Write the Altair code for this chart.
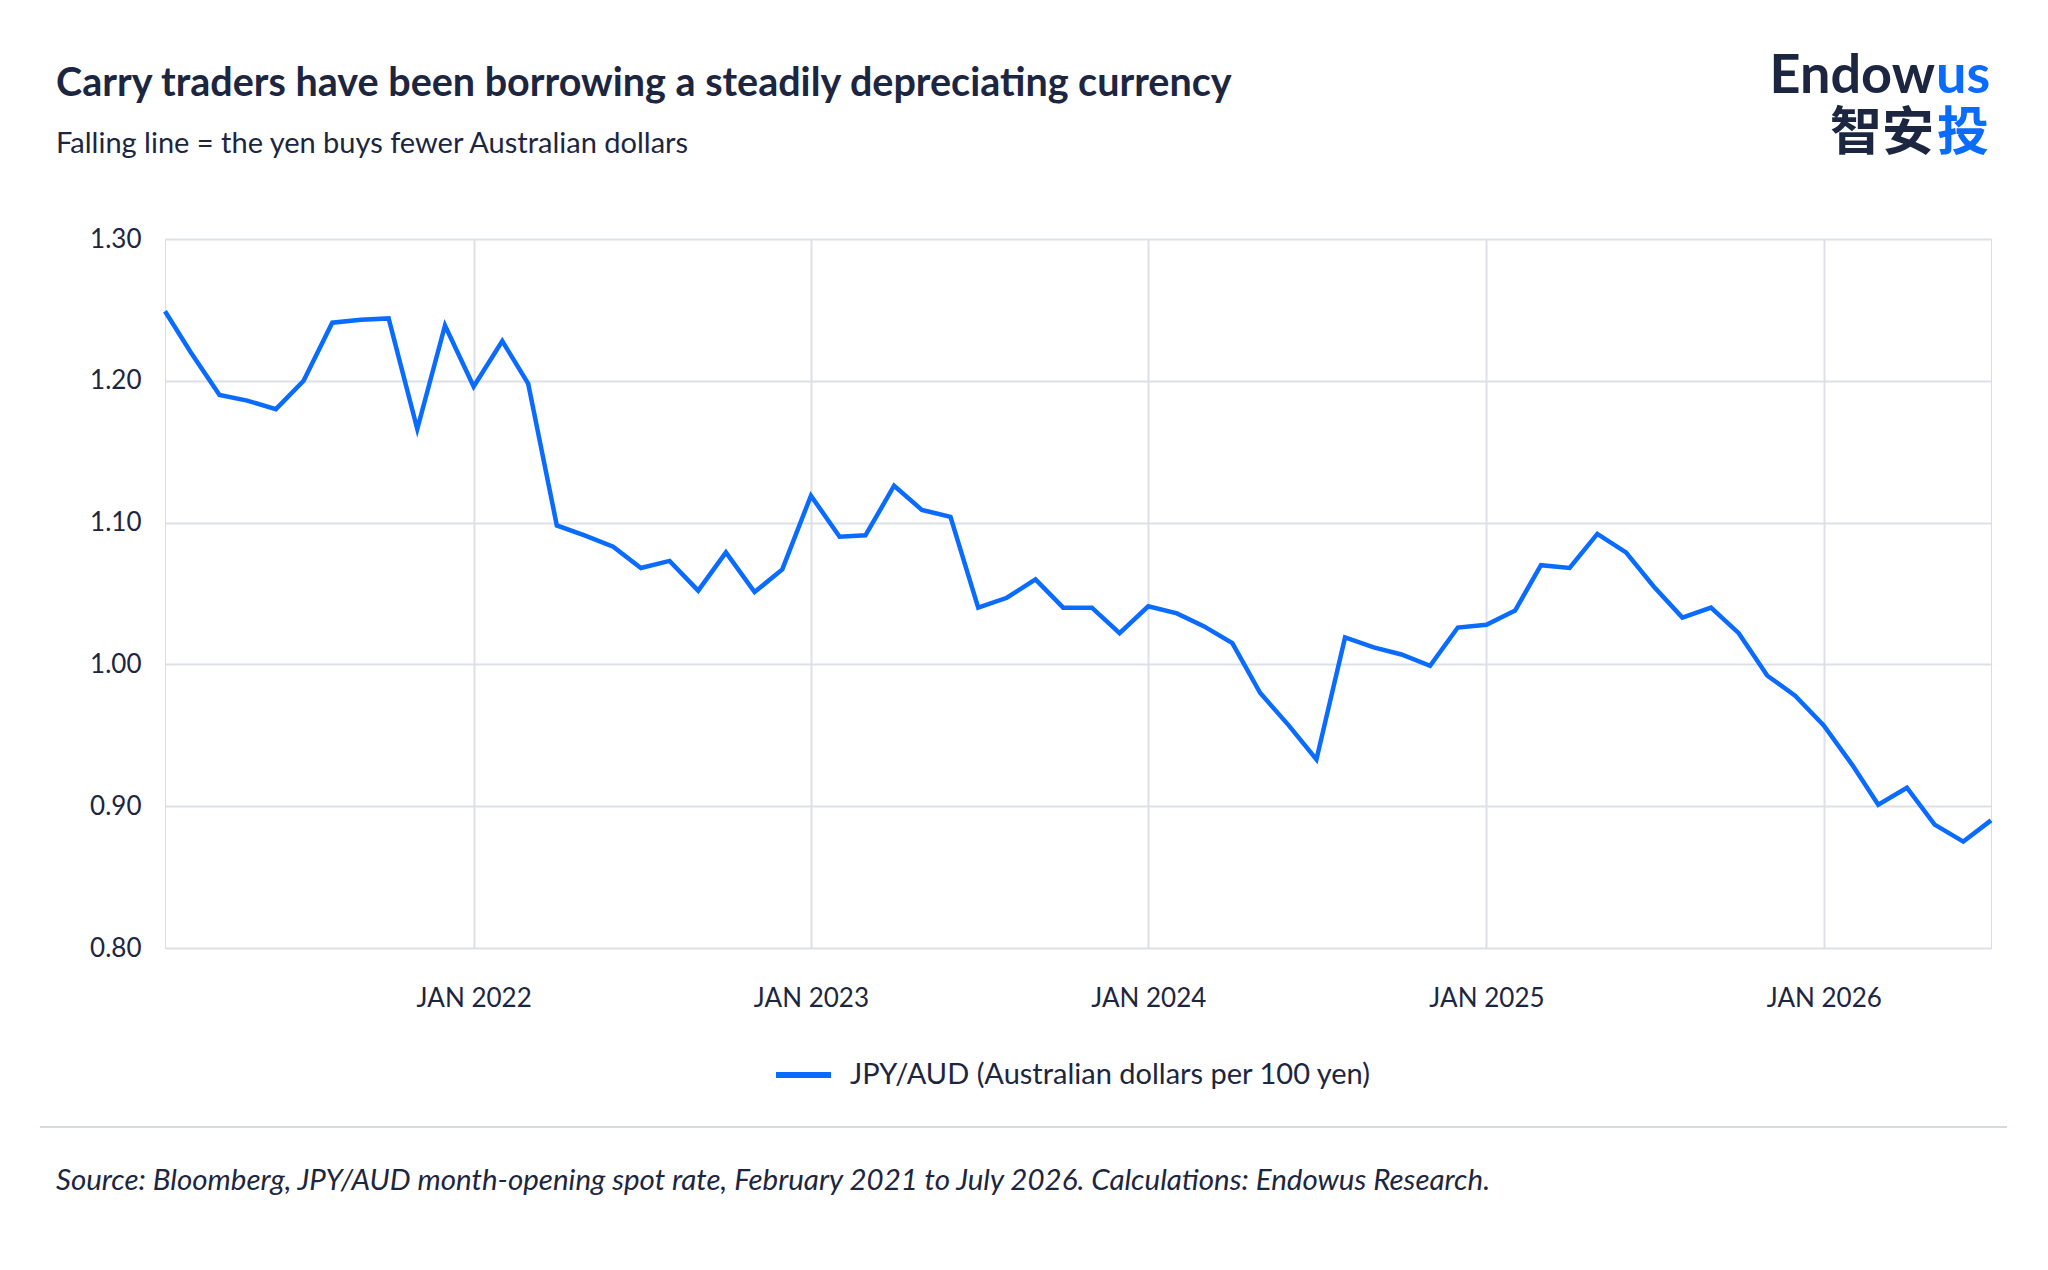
import pandas as pd
import altair as alt

months = pd.date_range("2021-02-01", "2026-07-01", freq="MS").strftime("%Y-%m-%d").tolist()
rate = [1.249, 1.220, 1.190, 1.186, 1.180, 1.200, 1.241, 1.243, 1.244, 1.166, 1.239,
        1.196, 1.228, 1.198, 1.098, 1.091, 1.083, 1.068, 1.073, 1.052, 1.079, 1.051, 1.067,
        1.119, 1.090, 1.091, 1.126, 1.109, 1.104, 1.040, 1.047, 1.060, 1.040, 1.040, 1.022,
        1.041, 1.036, 1.027, 1.015, 0.980, 0.957, 0.933, 1.019, 1.012, 1.007, 0.999, 1.026,
        1.028, 1.038, 1.070, 1.068, 1.092, 1.079, 1.055, 1.033, 1.040, 1.022, 0.992, 0.978,
        0.957, 0.929, 0.901, 0.913, 0.887, 0.875, 0.890]
tick_years = [2022, 2023, 2024, 2025, 2026]

title = "Carry traders have been borrowing a steadily depreciating currency"
subtitle = "Falling line = the yen buys fewer Australian dollars"
legend_label = "JPY/AUD (Australian dollars per 100 yen)"
source = "Source: Bloomberg, JPY/AUD month-opening spot rate, February 2021 to July 2026. Calculations: Endowus Research."

DARK = "#1c2640"
BLUE = "#0a6cff"
FONT = "Lato"

df = pd.DataFrame({"month": months, "rate": rate})

line = alt.Chart(df).mark_line(color=BLUE, strokeWidth=4.5).encode(
    x=alt.X("month:T", title=None,
            scale=alt.Scale(type="utc", domain=[alt.DateTime(year=2021, month=2, date=1, utc=True),
                                                alt.DateTime(year=2026, month=7, date=1, utc=True)]),
            axis=alt.Axis(values=[alt.DateTime(year=y, month=1, date=1, utc=True) for y in tick_years],
                          labelExpr="'JAN ' + utcFormat(datum.value, '%Y')",
                          labelFontSize=26, labelColor=DARK, labelFont=FONT, labelPadding=37,
                          ticks=False, domain=False, gridColor="#dde0e6", gridWidth=2)),
    y=alt.Y("rate:Q", title=None,
            scale=alt.Scale(domain=[0.8, 1.3], nice=False, zero=False),
            axis=alt.Axis(values=[0.8, 0.9, 1.0, 1.1, 1.2, 1.3], format=".2f",
                          labelFontSize=26, labelColor=DARK, labelFont=FONT, labelPadding=24,
                          ticks=False, domain=False, gridColor="#dde0e6", gridWidth=2)),
)

def txt(s, x, y, size, color=DARK, weight="normal", style="normal", align="left", font=FONT):
    return alt.Chart(pd.DataFrame({"t": [s]})).mark_text(
        fontSize=size, color=color, fontWeight=weight, fontStyle=style, align=align,
        baseline="middle", font=font
    ).encode(text="t:N", x=alt.value(x), y=alt.value(y))

legend_line = alt.Chart(pd.DataFrame({"a": [0]})).mark_rule(color=BLUE, strokeWidth=6).encode(
    x=alt.value(611), x2=alt.value(666), y=alt.value(836))
separator = alt.Chart(pd.DataFrame({"a": [0]})).mark_rule(color="#d6d9de", strokeWidth=2).encode(
    x=alt.value(-125), x2=alt.value(1842), y=alt.value(888))

CJK = "Noto Sans CJK SC"
chart = alt.layer(
    line,
    txt(title, -109, -155, 39.5, weight="bold"),
    txt(subtitle, -109, -95, 29),
    legend_line,
    txt(legend_label, 685, 836, 29),
    separator,
    txt(source, -109, 942, 29.5, style="italic"),
    txt("Endow", 1770, -162, 54, weight="bold", align="right"),
    txt("us", 1771, -162, 54, color=BLUE, weight="bold"),
    txt("智安", 1769, -105, 52, weight="bold", align="right", font=CJK),
    txt("投", 1772, -105, 52, color=BLUE, weight="bold", font=CJK),
).properties(
    width=1826, height=709,
    padding={"left": 157, "top": 231, "right": 49, "bottom": 300},
    autosize=alt.AutoSizeParams(type="none"),
).configure_view(stroke=None).configure(background="white")

chart.save("out.html", embed_options={"renderer": "svg", "actions": False})
